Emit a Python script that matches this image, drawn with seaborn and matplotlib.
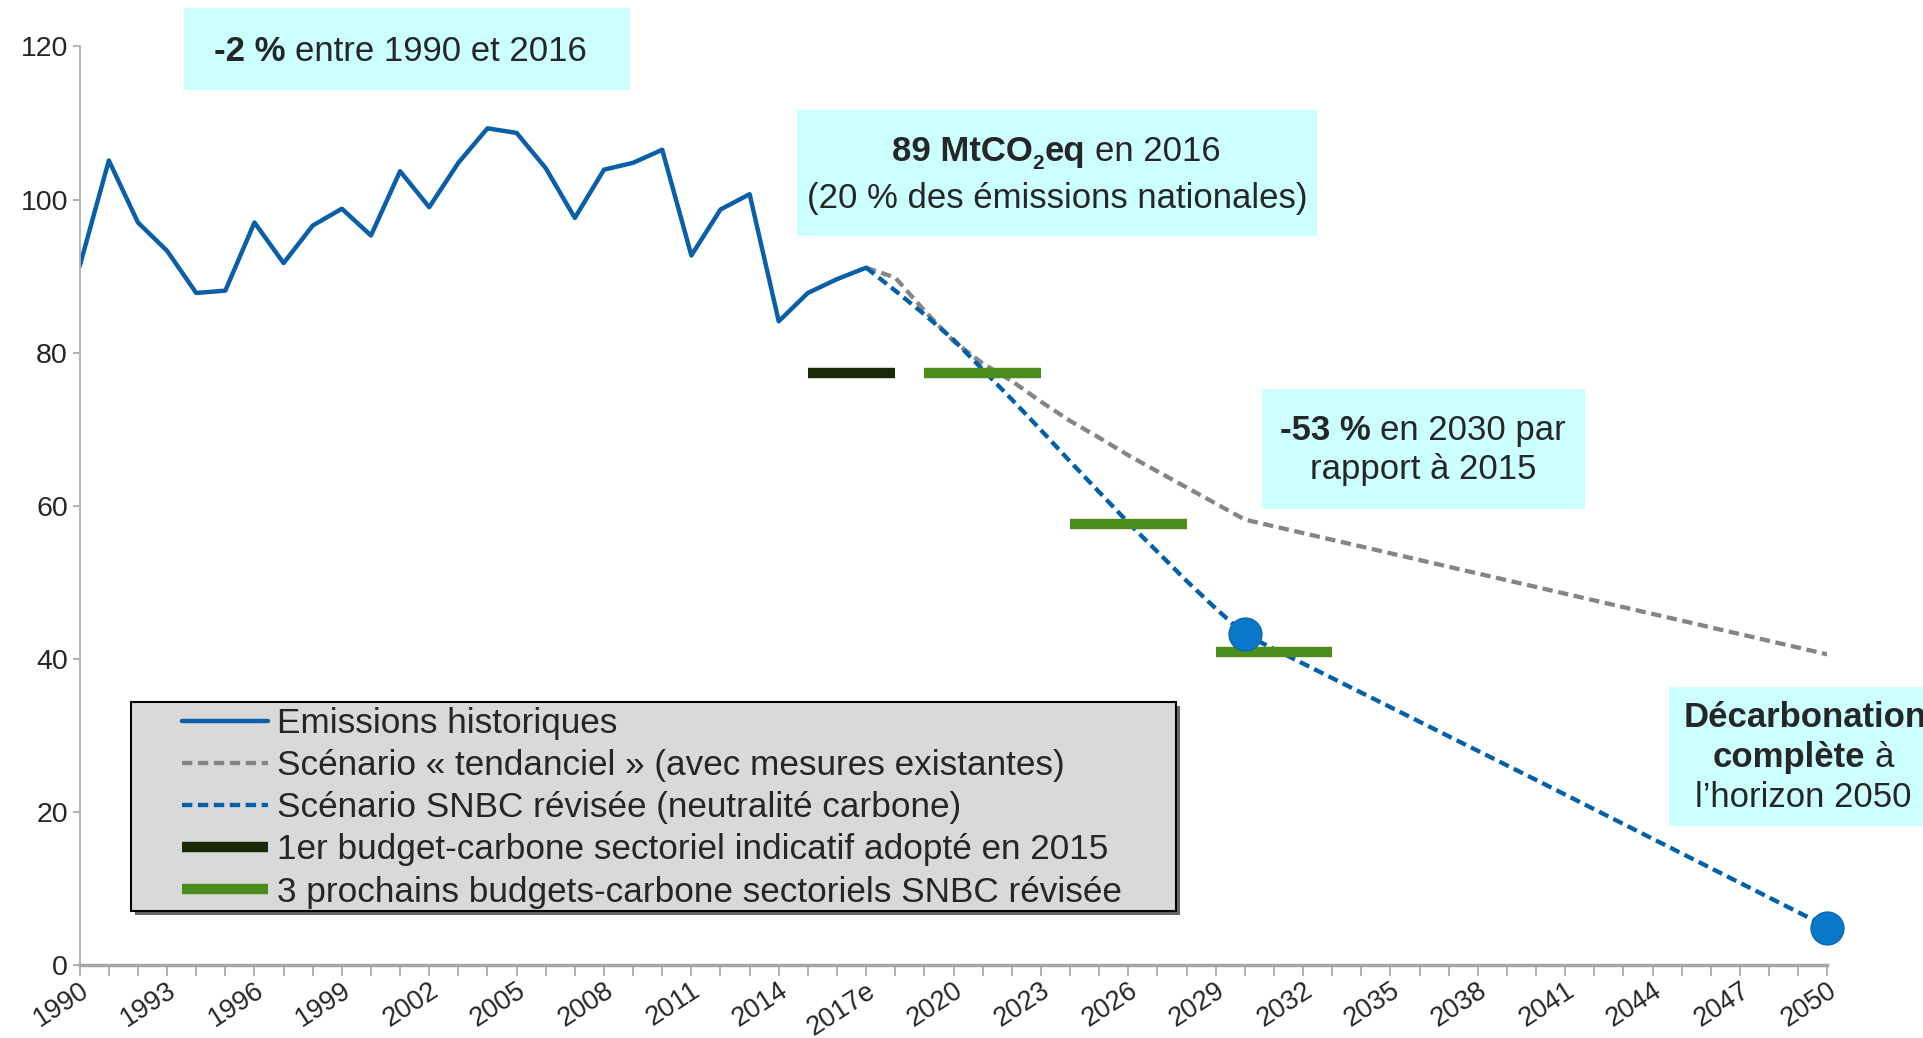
import matplotlib
matplotlib.use('Agg')
import matplotlib.pyplot as plt
import matplotlib.patheffects as pe
from matplotlib.lines import Line2D
from matplotlib.patches import Rectangle
from matplotlib.ticker import MultipleLocator
from matplotlib.transforms import IdentityTransform
import seaborn as sns

# emissions historiques (MtCO2eq)
years_hist = list(range(1990, 2018))
hist = [91.3, 105.1, 97.0, 93.3, 87.8, 88.1, 97.0, 91.7, 96.6, 98.8,
        95.3, 103.7, 99.0, 104.8, 109.3, 108.7, 104.1, 97.6, 103.9, 104.8,
        106.5, 92.7, 98.7, 100.7, 84.1, 87.8, 89.6, 91.1]

# scenario tendanciel (AME)
years_ame = [2017, 2018, 2019, 2020, 2021, 2022, 2023, 2024, 2025, 2026,
             2027, 2028, 2029, 2030, 2035, 2040, 2045, 2050]
ame = [91.1, 89.8, 85.5, 81.5, 78.6, 76.3, 73.6, 71.1, 68.9, 66.6,
       64.5, 62.4, 60.3, 58.2, 53.8, 49.4, 45.0, 40.6]

# scenario SNBC revisee (AMS)
years_snbc = [2017, 2018, 2019, 2020, 2021, 2022, 2023, 2024, 2025, 2026,
              2027, 2028, 2029, 2030, 2035, 2040, 2045, 2050]
snbc = [91.1, 88.1, 85.0, 81.7, 77.8, 73.9, 69.9, 65.8, 61.8, 57.8,
        54.0, 50.2, 46.6, 43.2, 33.7, 24.2, 14.6, 5.0]

# points cles
dot_years = [2030, 2050]
dot_vals = [43.3, 4.9]

# budgets carbone
budget1_start, budget1_end, budget1_val = [2015], [2018], [77.4]
budgets_start = [2019, 2024, 2029]
budgets_end = [2023, 2028, 2033]
budgets_val = [77.3, 57.6, 40.9]

tick_years = [1990, 1993, 1996, 1999, 2002, 2005, 2008, 2011, 2014, 2017,
              2020, 2023, 2026, 2029, 2032, 2035, 2038, 2041, 2044, 2047, 2050]
tick_labels = ['1990', '1993', '1996', '1999', '2002', '2005', '2008', '2011',
               '2014', '2017e', '2020', '2023', '2026', '2029', '2032', '2035',
               '2038', '2041', '2044', '2047', '2050']

c_hist = '#0b5fa8'
c_snbc = '#0060aa'
c_ame = '#858585'
c_dot = '#0a78c8'
c_dark = '#1b2908'
c_green = '#4b8c1b'
c_box = '#ccffff'
dash = (0, (2.4, 1.3))

sns.set_style('white')
plt.rcParams['font.family'] = ['Liberation Sans', 'DejaVu Sans']

W, H = 1923, 1038
fig = plt.figure(figsize=(W / 100, H / 100), dpi=100)
ax = fig.add_axes([79.7 / W, 1 - 965.2 / H, (1827.3 - 79.7) / W, (965.2 - 46.4) / H])

sns.lineplot(x=years_ame, y=ame, ax=ax, color=c_ame, linewidth=3.1, linestyle=dash)
sns.lineplot(x=years_snbc, y=snbc, ax=ax, color=c_snbc, linewidth=3.1, linestyle=dash)
sns.lineplot(x=years_hist, y=hist, ax=ax, color=c_hist, linewidth=3.2)
ax.hlines(budget1_val, budget1_start, budget1_end, colors=c_dark, linewidth=7.5, zorder=4)
ax.hlines(budgets_val, budgets_start, budgets_end, colors=c_green, linewidth=7.5, zorder=4)
sns.scatterplot(x=dot_years, y=dot_vals, ax=ax, s=560, color=c_dot,
                edgecolor='#0a68b5', linewidth=1, zorder=5, clip_on=False)

ax.set_xlim(1990, 2050)
ax.set_ylim(0, 120)
ax.set_yticks([0, 20, 40, 60, 80, 100, 120])
ax.set_xticks(tick_years)
ax.set_xticklabels(tick_labels)
ax.xaxis.set_minor_locator(MultipleLocator(1))
plt.setp(ax.get_xticklabels(), rotation=33, ha='right', rotation_mode='anchor')
ax.tick_params(axis='x', which='both', length=8, width=1.2, color='#a6a6a6',
               direction='out', bottom=True)
ax.tick_params(axis='x', labelsize=19.5, pad=1)
ax.tick_params(axis='y', length=5, width=1.2, color='#a6a6a6', direction='out',
               left=True, labelsize=20.5, pad=3.5)
ax.set_xlabel('')
ax.set_ylabel('')
for s in ['top', 'right']:
    ax.spines[s].set_visible(False)
ax.spines['left'].set_color('#b0b0b0')
ax.spines['left'].set_linewidth(1.3)
ax.spines['bottom'].set_color('#a6a6a6')
ax.spines['bottom'].set_linewidth(2.5)

# legende : cadre gris + entrees
frame = Rectangle((131 / W, 1 - 911 / H), (1176 - 131) / W, (911 - 701.5) / H,
                  transform=fig.transFigure, facecolor='#d9d9d9', edgecolor='black',
                  linewidth=1.5, zorder=6)
frame.set_path_effects([pe.SimplePatchShadow(offset=(3, -3), shadow_rgbFace='black', alpha=0.6),
                        pe.Normal()])
fig.patches.append(frame)

handles = [
    Line2D([], [], color=c_hist, linewidth=3.2),
    Line2D([], [], color=c_ame, linewidth=3.1, linestyle=dash),
    Line2D([], [], color=c_snbc, linewidth=3.1, linestyle=dash),
    Line2D([], [], color=c_dark, linewidth=7.5, solid_capstyle='butt'),
    Line2D([], [], color=c_green, linewidth=7.5, solid_capstyle='butt'),
]
labels = [
    'Emissions historiques',
    'Scénario « tendanciel » (avec mesures existantes)',
    'Scénario SNBC révisée (neutralité carbone)',
    '1er budget-carbone sectoriel indicatif adopté en 2015',
    '3 prochains budgets-carbone sectoriels SNBC révisée',
]
leg = fig.legend(handles, labels, loc='upper left', bbox_to_anchor=(181.7 / W, 1 - 707 / H),
                 frameon=False, fontsize=25.3, handlelength=2.45, handletextpad=0.25,
                 labelspacing=0.26, borderpad=0, borderaxespad=0)
leg.set_zorder(7)

# encadres de texte
renderer = fig.canvas.get_renderer()


def box(x0, y0, x1, y1):
    r = Rectangle((x0 / W, 1 - y1 / H), (x1 - x0) / W, (y1 - y0) / H,
                  transform=fig.transFigure, facecolor=c_box, edgecolor='none', zorder=3)
    fig.patches.append(r)


def rich_line(parts, cx, base_y, size=25):
    em = size * fig.dpi / 72
    objs = []
    total = 0
    for txt, wt, sc, dy, gap in parts:
        t = fig.text(0, 0, txt, fontsize=size * sc, fontweight=wt, ha='left',
                     va='baseline', transform=IdentityTransform(), zorder=8)
        w = t.get_window_extent(renderer).width
        objs.append((t, total + gap * em, dy))
        total += gap * em + w
    x0 = cx - total / 2
    for t, off, dy in objs:
        t.set_position((x0 + off, H - base_y + dy * em))


SP = 0.278
box(184, 8.3, 630, 90)
rich_line([('-2 %', 'bold', 1, 0, 0), ('entre 1990 et 2016', 'normal', 1, 0, SP)], 400, 61)

box(797, 110, 1317, 236)
rich_line([('89 MtCO', 'bold', 1, 0, 0), ('2', 'bold', 0.6, -0.22, 0),
           ('eq', 'bold', 1, 0, 0), ('en 2016', 'normal', 1, 0, SP)], 1056, 161)
rich_line([('(20 % des émissions nationales)', 'normal', 1, 0, 0)], 1057, 208.3)

box(1262, 389, 1585, 509)
rich_line([('-53 %', 'bold', 1, 0, 0), ('en 2030 par', 'normal', 1, 0, SP)], 1423, 440)
rich_line([('rapport à 2015', 'normal', 1, 0, 0)], 1423, 479)

box(1669, 687, 1950, 826)
rich_line([('Décarbonation', 'bold', 1, 0, 0)], 1805, 726.7)
rich_line([('complète', 'bold', 1, 0, 0), ('à', 'normal', 1, 0, SP)], 1803, 766.7)
rich_line([('l’horizon 2050', 'normal', 1, 0, 0)], 1803, 806.7)

fig.savefig('out.png', dpi=100)
